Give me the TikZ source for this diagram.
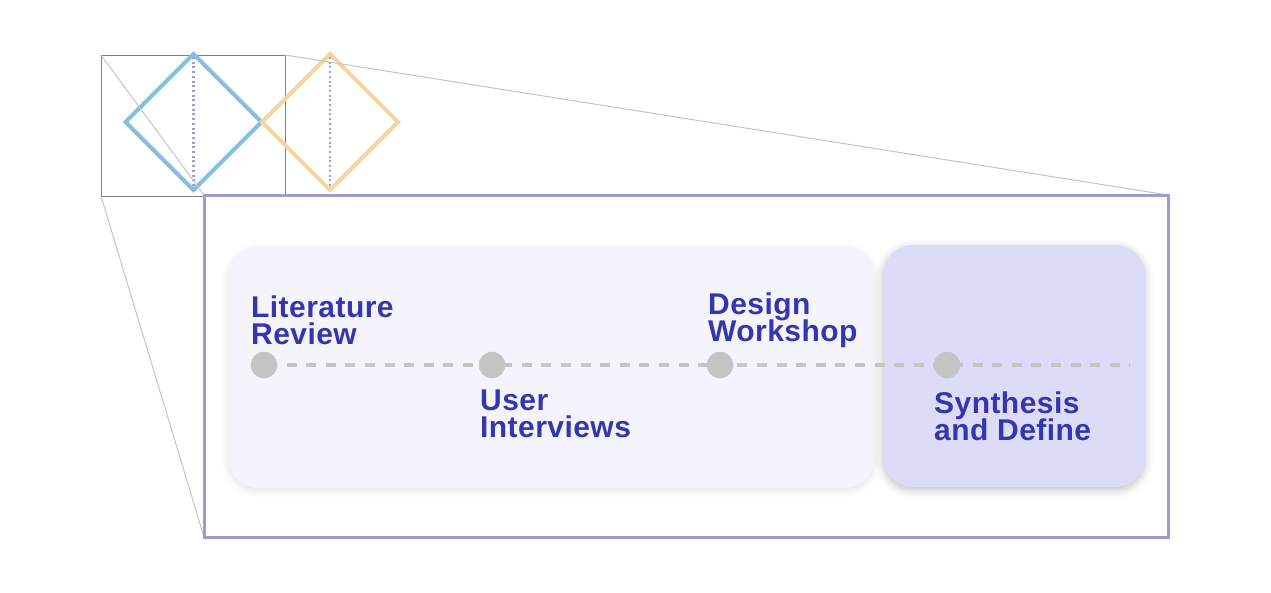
\documentclass[tikz,border=0pt]{standalone}
\usepackage{fontspec}
\setmainfont{Liberation Sans}
\newfontfamily\stepfont[LetterSpace=1.5]{Liberation Sans}
\usetikzlibrary{calc,shadows.blur}
\definecolor{stepblue}{HTML}{3535AF}
\definecolor{framegray}{HTML}{9C9DC9}
\definecolor{zoomgray}{HTML}{C4C4C4}
\definecolor{diamondblue}{HTML}{85C1DF}
\definecolor{diamondorange}{HTML}{F6D59D}
\definecolor{cardlight}{HTML}{F4F5FC}
\definecolor{carddark}{HTML}{DCDCF8}
\definecolor{dotgray}{HTML}{C4C4C4}
\newcommand{\steptight}{\setlength{\lineskiplimit}{-100pt}\setlength{\lineskip}{0pt}}
\newcommand{\makediamond}[3]{
	\draw[#3, line width=4pt, line join=miter] ($(#1)+(0,-#2)$) -- ($(#1)+(#2,0)$) -- ($(#1)+(0,#2)$) -- ($(#1)+(-#2,0)$) -- cycle;
	\draw[framegray, line width=2.5pt, dash pattern=on 2pt off 2.7pt] ($(#1)+(0,-#2+3)$) -- ($(#1)+(0,#2-3)$);
}
\tikzset{
	steplabel/.style={text=stepblue, font=\stepfont\fontsize{30}{27}\selectfont\bfseries\steptight, align=left, inner sep=0pt, anchor=base west},
	stepdot/.style={circle, fill=dotgray, minimum size=26.5pt, inner sep=0pt},
}

\begin{document}
\begin{tikzpicture}[x=1pt,y=-1pt]
	\useasboundingbox (0,0) rectangle (1271,592);
	\coordinate (SqA) at (101,55);
	\coordinate (SqB) at (285,196);
	\coordinate (FrA) at (204,195);
	\coordinate (FrB) at (1168,537);

	\draw[gray, line width=1pt] (SqA) rectangle (SqB);
	\makediamond{193.5,122}{68}{diamondblue}
	\makediamond{330,122}{68}{diamondorange}

	% zoom lines
	\draw[zoomgray, line width=1pt] (SqA) -- (FrA);
	\draw[zoomgray, line width=1pt] (SqB |- SqA) -- (FrB |- FrA);
	\draw[zoomgray, line width=1pt] (SqA |- SqB) -- (FrA |- FrB);

	\draw[framegray, line width=3pt] (FrA) rectangle (FrB);

	% cards
	\fill[cardlight, rounded corners=28pt, blur shadow={shadow xshift=0pt, shadow yshift=-2pt, shadow blur radius=7pt, shadow opacity=12}] (229,248) rectangle (874,488);
	\fill[carddark, rounded corners=30pt, blur shadow={shadow xshift=0pt, shadow yshift=-3pt, shadow blur radius=8pt, shadow opacity=25}] (883,245) rectangle (1145,487);

	% timeline
	\coordinate (P1) at (264,365);
	\coordinate (P2) at (492,365);
	\coordinate (P3) at (720,365);
	\coordinate (P4) at (947,365);
	\coordinate (End) at (1130,365);
	\draw[dotgray, line width=4.5pt, dash pattern=on 10pt off 9.6pt, dash phase=16.6pt] (P1) -- (End);
	\foreach \i in {1,...,4}
		\node[stepdot] (D\i) at (P\i) {};

	\node[steplabel] (L1) at (251,344) {Literature\\Review};
	\node[steplabel] (L2) at (480,437) {User\\Interviews};
	\node[steplabel] (L3) at (708,341) {Design\\Workshop};
	\node[steplabel] (L4) at (934,440) {Synthesis\\and Define};

\end{tikzpicture}
\end{document}
